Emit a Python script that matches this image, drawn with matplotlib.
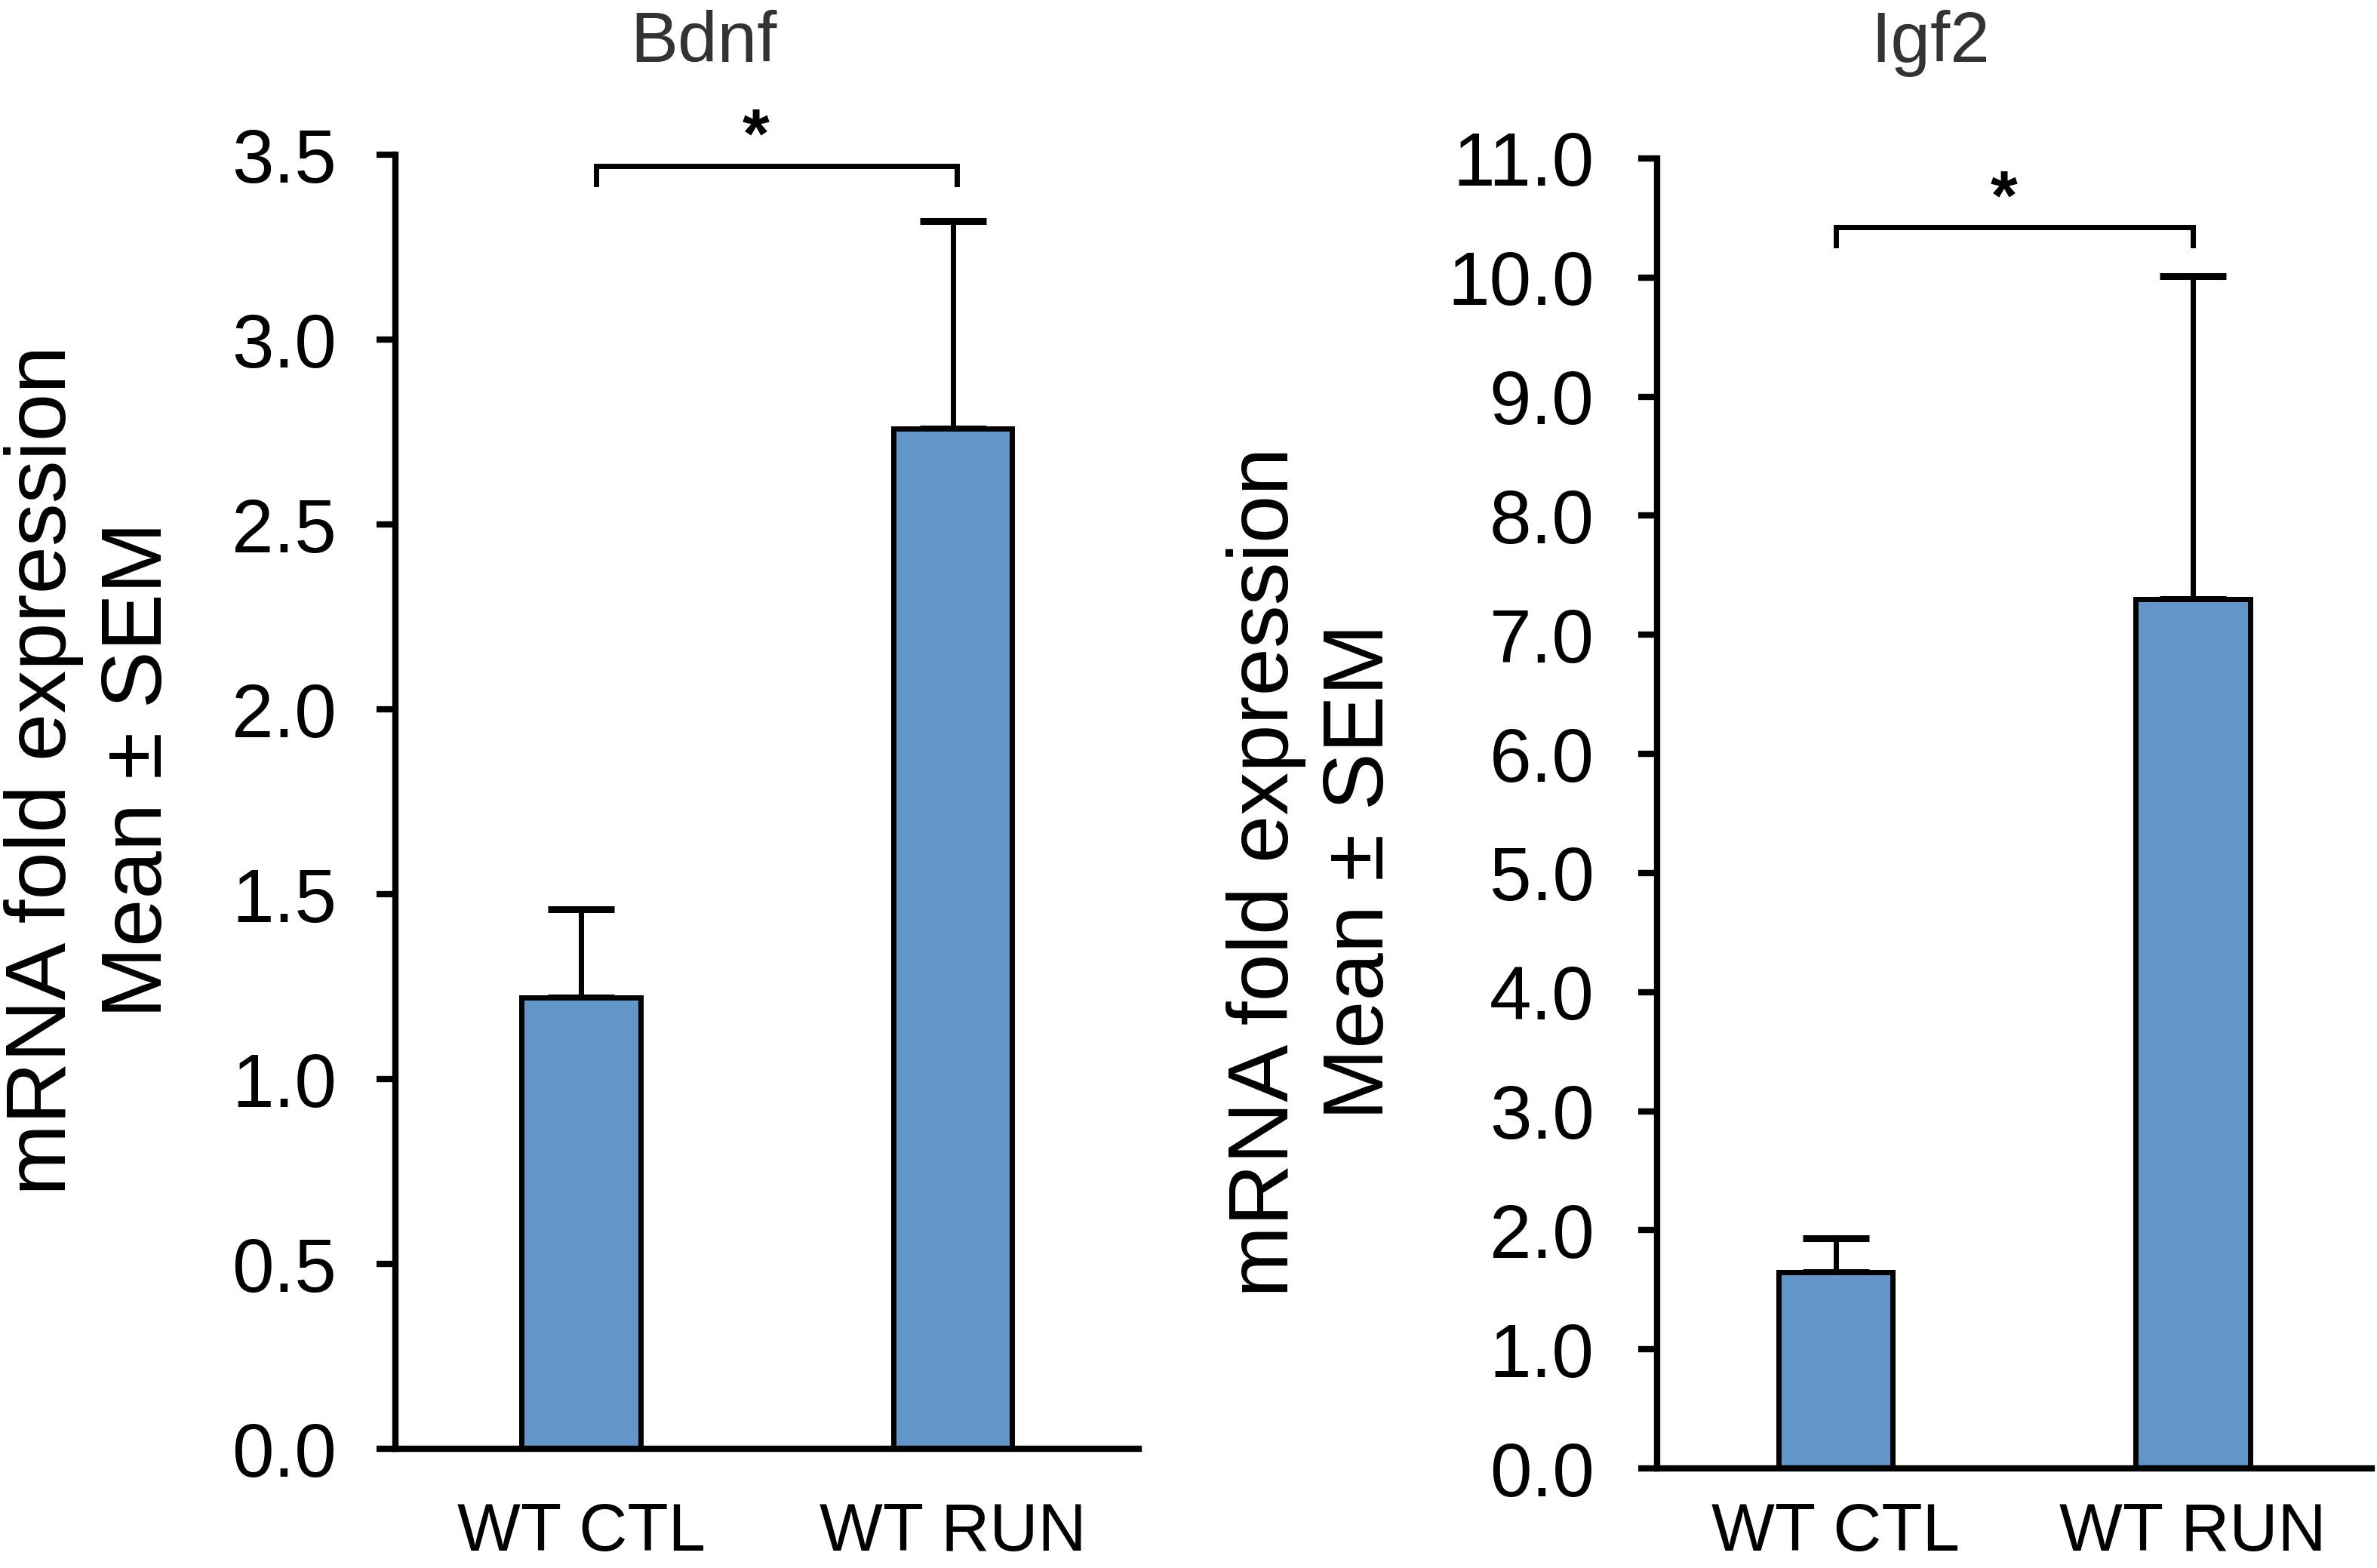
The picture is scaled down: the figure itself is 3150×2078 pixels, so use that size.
import matplotlib
matplotlib.use('Agg')
import matplotlib.pyplot as plt
import numpy as np

plt.rcParams['font.family'] = ['Liberation Sans', 'DejaVu Sans']

groups = ['WT CTL', 'WT RUN']

bdnf_mean = [1.22, 2.76]
bdnf_sem = [0.24, 0.56]

igf2_mean = [1.65, 7.30]
igf2_sem = [0.28, 2.71]

bar_color = '#6296C9'
ylabel_txt = 'mRNA fold expression\nMean \u00b1 SEM'

fig = plt.figure(figsize=(31.5, 20.78), dpi=100)

ax1 = fig.add_axes([0.1663, 0.076, 0.3127, 0.8253])
ax2 = fig.add_axes([0.6971, 0.0635, 0.3006, 0.8355])


def draw_panel(ax, means, sems, ymax, ystep, bracket, tick_pad, xlab_pad):
	x = np.arange(len(groups))
	ax.bar(x, means, width=0.32, color=bar_color, edgecolor='black', linewidth=5, zorder=2)
	# one sided error bars (upper only)
	ax.errorbar(x, means, yerr=[np.zeros(len(sems)), sems], fmt='none', ecolor='black',
				elinewidth=5, capsize=32, capthick=6.5, zorder=1)

	ax.set_xlim(-0.5, 1.5)
	ax.set_ylim(0, ymax)
	ticks = np.arange(0, ymax + ystep / 2, ystep)
	ax.set_yticks(ticks)
	ax.set_yticklabels(['%.1f' % t for t in ticks])
	ax.set_xticks(x)
	ax.set_xticklabels(groups)

	for s in ['top', 'right']:
		ax.spines[s].set_visible(False)
	for s in ['left', 'bottom']:
		ax.spines[s].set_linewidth(6)
	ax.tick_params(axis='y', length=18, width=6, direction='out', labelsize=72, pad=tick_pad)
	ax.tick_params(axis='x', length=0, labelsize=64, pad=xlab_pad)

	# significance bracket
	x0, x1, ytop, yleg = bracket
	ax.plot([x0, x0, x1, x1], [yleg, ytop, ytop, yleg], color='black', lw=5,
			clip_on=False, solid_joinstyle='miter')
	ax.annotate('*', xy=(0.47, ytop), xytext=(0, 8), textcoords='offset points',
				ha='center', va='baseline', fontsize=66, fontweight='bold',
				annotation_clip=False)


draw_panel(ax1, bdnf_mean, bdnf_sem, 3.5, 0.5, (0.04, 1.01, 3.47, 3.42), 38, 50)
draw_panel(ax2, igf2_mean, igf2_sem, 11.0, 1.0, (0.0, 1.0, 10.42, 10.27), 42, 32)

# titles
fig.text(0.296, 0.9605, 'Bdnf', ha='center', va='baseline', fontsize=68, color='#333333')
fig.text(0.812, 0.9605, 'Igf2', ha='center', va='baseline', fontsize=68, color='#333333')

# y labels
fig.text(0.0385, 0.509, ylabel_txt, rotation=90, ha='center', va='center',
		 multialignment='center', fontsize=82, linespacing=1.25)
fig.text(0.5527, 0.444, ylabel_txt, rotation=90, ha='center', va='center',
		 multialignment='center', fontsize=82, linespacing=1.25)

fig.savefig('out.png', dpi=100)
